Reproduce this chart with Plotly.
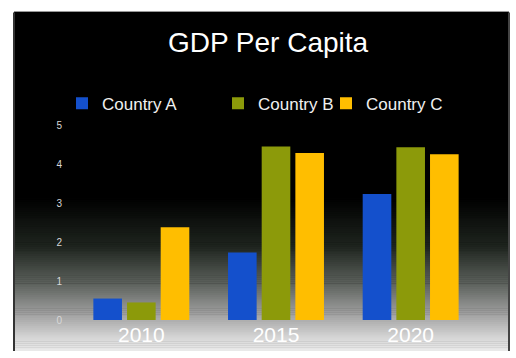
import plotly.graph_objects as go

years = ["2010", "2015", "2020"]
country_a = [0.55, 1.73, 3.23]
country_b = [0.45, 4.45, 4.43]
country_c = [2.38, 4.28, 4.25]
series_names = ["Country A", "Country B", "Country C"]
colors = ["#1450cc", "#8c9a0a", "#ffbe00"]

W, H = 516, 358
L, R, T, B = 74, 478, 125, 326

def px(x):
    return (x - L) / (R - L)

def py(y):
    return (B - y) / (B - T)

shapes = []
# black frame
shapes.append(dict(type="rect", xref="paper", yref="paper", x0=px(14), x1=px(509),
                   y0=py(358), y1=py(8), fillcolor="black", line=dict(width=0), layer="below"))
# gradient at bottom of frame
stops = [(200, (0, 0, 0)), (250, (30, 36, 30)), (290, (95, 100, 95)),
         (320, (160, 160, 160)), (345, (215, 215, 215)), (358, (235, 235, 235))]

def col_at(y):
    for (y0, c0), (y1, c1) in zip(stops[:-1], stops[1:]):
        if y0 <= y <= y1:
            t = (y - y0) / (y1 - y0)
            return tuple(int(round(a + (b - a) * t)) for a, b in zip(c0, c1))
    return stops[-1][1]

y = 200
while y < 358:
    c = col_at(y + 1)
    shapes.append(dict(type="rect", xref="paper", yref="paper", x0=px(15), x1=px(508),
                       y0=py(min(y + 2.5, 358)), y1=py(y), fillcolor="rgb(%d,%d,%d)" % c,
                       line=dict(width=0), layer="below"))
    y += 2
# frame edges
shapes.append(dict(type="line", xref="paper", yref="paper", x0=px(14), x1=px(14),
                   y0=py(358), y1=py(9), line=dict(color="#333", width=2), layer="below"))
shapes.append(dict(type="line", xref="paper", yref="paper", x0=px(509), x1=px(509),
                   y0=py(358), y1=py(9), line=dict(color="#444", width=2), layer="below"))
shapes.append(dict(type="line", xref="paper", yref="paper", x0=px(14), x1=px(509),
                   y0=py(8), y1=py(8), line=dict(color="#999", width=1), layer="below"))

fig = go.Figure()
vals = [country_a, country_b, country_c]
legend_ids = ["legend", "legend2", "legend3"]
for name, v, c, lg in zip(series_names, vals, colors, legend_ids):
    fig.add_trace(go.Bar(x=years, y=v, name=name, marker=dict(color=c, line=dict(width=0)),
                         legend=lg, showlegend=True))

leg_common = dict(orientation="h", xanchor="left", yanchor="middle", y=py(103),
                  bgcolor="rgba(0,0,0,0)", font=dict(family="Liberation Sans, Arial", size=17, color="#f0f0f0"),
                  itemwidth=30, visible=True)
fig.update_layout(
    width=W, height=H,
    margin=dict(l=L, r=W - R, t=T, b=H - B),
    paper_bgcolor="white",
    plot_bgcolor="black",
    showlegend=True,
    barmode="group",
    bargap=0.25,
    bargroupgap=0.15,
    shapes=shapes,
    title=dict(text="GDP Per Capita", x=px(268), xref="paper", xanchor="center", y=1 - 42 / H, yanchor="middle",
               font=dict(family="Liberation Sans, Arial", size=28, color="white")),
    legend=dict(leg_common, x=px(62)),
    legend2=dict(leg_common, x=px(218)),
    legend3=dict(leg_common, x=px(326)),
    xaxis=dict(showgrid=False, zeroline=False, showline=False,
               tickfont=dict(family="Liberation Sans, Arial", size=21, color="white")),
    yaxis=dict(range=[0, 5], dtick=1, showgrid=False, zeroline=False, showline=False,
               tickfont=dict(family="Liberation Sans, Arial", size=10, color="#d8d8d8"),
               ticklabelstandoff=11),
)
fig.write_html("out.html")
